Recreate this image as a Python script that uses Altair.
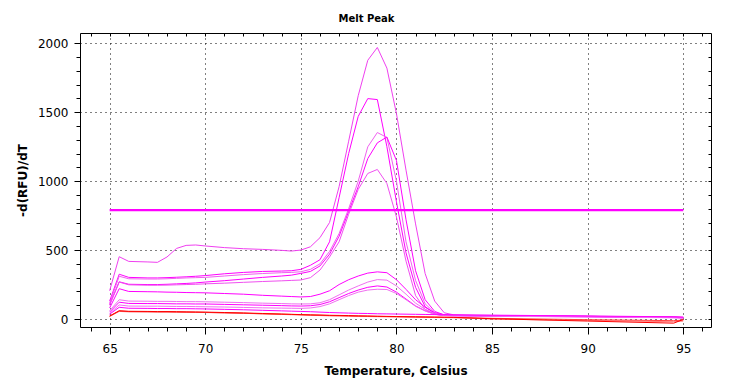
import altair as alt
import pandas as pd

temps = [65, 65.5, 66, 67, 67.5, 68, 68.5, 69, 69.5, 70, 71, 72, 73, 74, 74.5, 75,
         75.5, 76, 76.5, 77, 77.5, 78, 78.5, 79, 79.5, 80, 80.5, 81, 81.5, 82, 82.5,
         83, 85, 90, 94.5, 95]

curve_a = [205, 452, 418, 414, 411, 450, 512, 534, 537, 530, 518, 510, 505, 498, 493, 500,
           524, 590, 700, 960, 1290, 1620, 1877, 1970, 1820, 1490, 1080, 690, 330, 130, 45,
           30, 26, 20, 14, 12]
curve_b = [130, 325, 302, 298, 298, 300, 303, 306, 310, 315, 328, 338, 345, 348, 350, 360,
           390, 430, 560, 880, 1200, 1470, 1599, 1592, 1250, 850, 480, 230, 90, 40, 28,
           26, 24, 19, 13, 11]
curve_c = [115, 310, 292, 290, 290, 292, 295, 298, 300, 302, 312, 322, 330, 336, 338, 343,
           360, 400, 490, 620, 800, 1000, 1249, 1353, 1317, 1000, 560, 280, 110, 45, 30,
           27, 24, 19, 13, 11]
curve_d = [105, 270, 252, 250, 250, 252, 255, 258, 262, 268, 278, 290, 302, 312, 318, 331,
           345, 385, 470, 600, 780, 960, 1164, 1278, 1320, 1150, 720, 350, 140, 55, 30,
           27, 24, 19, 13, 11]
curve_e = [100, 268, 248, 245, 245, 246, 248, 250, 252, 255, 260, 266, 272, 277, 280, 283,
           300, 355, 450, 560, 760, 940, 1056, 1085, 983, 740, 420, 170, 70, 35, 25,
           24, 22, 18, 12, 10]
curve_f = [80, 220, 200, 198, 197, 195, 194, 192, 191, 190, 185, 180, 172, 166, 163, 160,
           163, 180, 205, 250, 285, 312, 333, 342, 336, 285, 215, 140, 85, 45, 30,
           26, 23, 18, 12, 10]
curve_g = [60, 140, 130, 129, 128, 128, 127, 126, 126, 125, 122, 119, 115, 112, 110, 109,
           110, 118, 140, 175, 210, 240, 268, 286, 282, 240, 180, 115, 70, 40, 28,
           25, 22, 17, 11, 9]
curve_h = [50, 122, 113, 112, 112, 111, 110, 110, 109, 109, 106, 103, 100, 97, 95, 94,
           96, 105, 125, 155, 185, 210, 230, 240, 232, 195, 145, 95, 60, 35, 26,
           24, 21, 16, 10, 8]
curve_i = [40, 102, 94, 93, 93, 92, 91, 91, 90, 89, 87, 84, 81, 79, 78, 77,
           80, 90, 110, 140, 170, 195, 210, 216, 214, 185, 140, 92, 58, 34, 25,
           23, 20, 15, 9, 7]
curve_j = [35, 85, 78, 77, 76, 76, 75, 75, 74, 73, 70, 67, 63, 59, 57, 55,
           53, 50, 47, 45, 43, 41, 40, 38, 37, 36, 35, 34, 33, 32, 31,
           30, 28, 22, 16, 14]
curve_k = [22, 60, 56, 55, 54, 54, 53, 52, 51, 50, 47, 44, 40, 36, 34, 32,
           30, 29, 27, 26, 25, 23, 22, 20, 19, 18, 17, 16, 15, 14, 13,
           12, 2, -15, -30, -3]
curve_l = [18, 55, 52, 51, 50, 50, 49, 48, 48, 47, 44, 41, 37, 33, 31, 29,
           27, 25, 23, 22, 20, 19, 18, 17, 16, 15, 14, 13, 12, 11, 10,
           9, 0, -10, -20, -15]
curve_m = [20, 58, 54, 53, 52, 52, 51, 50, 49, 48, 45, 42, 38, 35, 33, 31,
           29, 27, 25, 24, 22, 21, 20, 19, 18, 17, 16, 15, 14, 13, 12,
           11, 5, -5, -12, -8]

curve_names = ["A", "B", "C", "D", "E", "F", "G", "H", "I", "J", "L", "M", "K"]
curve_values = [curve_a, curve_b, curve_c, curve_d, curve_e, curve_f, curve_g, curve_h,
                curve_i, curve_j, curve_l, curve_m, curve_k]
curve_colors = ["#F040F0", "#FF00FF", "#F060F0", "#FF00FF", "#F050F0", "#FF00FF",
                "#F070F0", "#FF00FF", "#F070F0", "#FF00FF", "#FF7878", "#FF4040", "#FF0000"]

threshold_t = [65, 95]
threshold_v = [790, 790]

rows = []
for order, (name, vals) in enumerate(zip(curve_names, curve_values)):
    for t, v in zip(temps, vals):
        rows.append({"T": t, "v": v, "curve": name, "o": order})
df = pd.DataFrame(rows)
thr = pd.DataFrame({"T": threshold_t, "v": threshold_v})

FONT = "DejaVu Sans"
xscale = alt.Scale(domain=[63.45, 96.45], nice=False, zero=False)
yscale = alt.Scale(domain=[-58, 2075], nice=False, zero=False)

x_major = alt.Axis(values=[65, 70, 75, 80, 85, 90, 95], orient="bottom", tickSize=7,
                   labelPadding=9, title="Temperature, Celsius", titlePadding=11,
                   grid=True, gridDash=[1, 4], gridColor="black", gridOpacity=1,
                   domain=False, labelFont=FONT, labelFontSize=12, labelColor="black",
                   titleFont=FONT, titleFontSize=12, titleFontWeight="bold",
                   titleColor="black", tickColor="black")
y_major = alt.Axis(values=[0, 500, 1000, 1500, 2000], orient="left", tickSize=6,
                   labelPadding=6, format="d", title="-d(RFU)/dT", titlePadding=8,
                   grid=True, gridDash=[1, 4], gridColor="black", gridOpacity=1,
                   domain=False, labelFont=FONT, labelFontSize=12, labelColor="black",
                   titleFont=FONT, titleFontSize=12, titleFontWeight="bold",
                   titleColor="black", tickColor="black")
x_minor = alt.Axis(values=list(range(64, 97)), orient="bottom", tickSize=4, labels=False,
                   title=None, grid=False, domain=False, tickColor="black")
y_minor = alt.Axis(values=list(range(0, 2100, 100)), orient="left", tickSize=4,
                   labels=False, title=None, grid=False, domain=False, tickColor="black")
x_top = alt.Axis(values=list(range(64, 97)), orient="top", tickSize=3, offset=-3,
                 labels=False, title=None, grid=False, domain=False, tickColor="black")
y_right = alt.Axis(values=list(range(0, 2100, 100)), orient="right", tickSize=3, offset=-3,
                   labels=False, title=None, grid=False, domain=False, tickColor="black")

lines = alt.Chart(df).mark_line(strokeWidth=1).encode(
    x=alt.X("T:Q", scale=xscale, axis=x_major),
    y=alt.Y("v:Q", scale=yscale, axis=y_major),
    color=alt.Color("curve:N", scale=alt.Scale(domain=curve_names, range=curve_colors),
                    legend=None),
    order=alt.Order("o:Q"),
)

threshold = alt.Chart(thr).mark_line(strokeWidth=2.2, color="#FF00FF").encode(
    x=alt.X("T:Q", scale=xscale, axis=x_minor),
    y=alt.Y("v:Q", scale=yscale, axis=y_minor),
)

ghost = alt.Chart(thr).mark_line(strokeOpacity=0).encode(
    x=alt.X("T:Q", scale=xscale, axis=x_top),
    y=alt.Y("v:Q", scale=yscale, axis=y_right),
)

chart = alt.layer(lines, threshold, ghost).resolve_scale(
    x="shared", y="shared"
).resolve_axis(
    x="independent", y="independent"
).properties(
    width=631,
    height=294,
    title=alt.TitleParams(text="Melt Peak", font=FONT, fontSize=10, fontWeight="bold",
                          color="black", anchor="middle", dx=-29, offset=9),
    autosize=alt.AutoSizeParams(type="none"),
    padding={"left": 72, "top": 25, "right": 13, "bottom": 55},
    background="white",
).configure_view(stroke="black", strokeWidth=1)

chart.save("out.html", embed_options={"renderer": "svg", "actions": False})
